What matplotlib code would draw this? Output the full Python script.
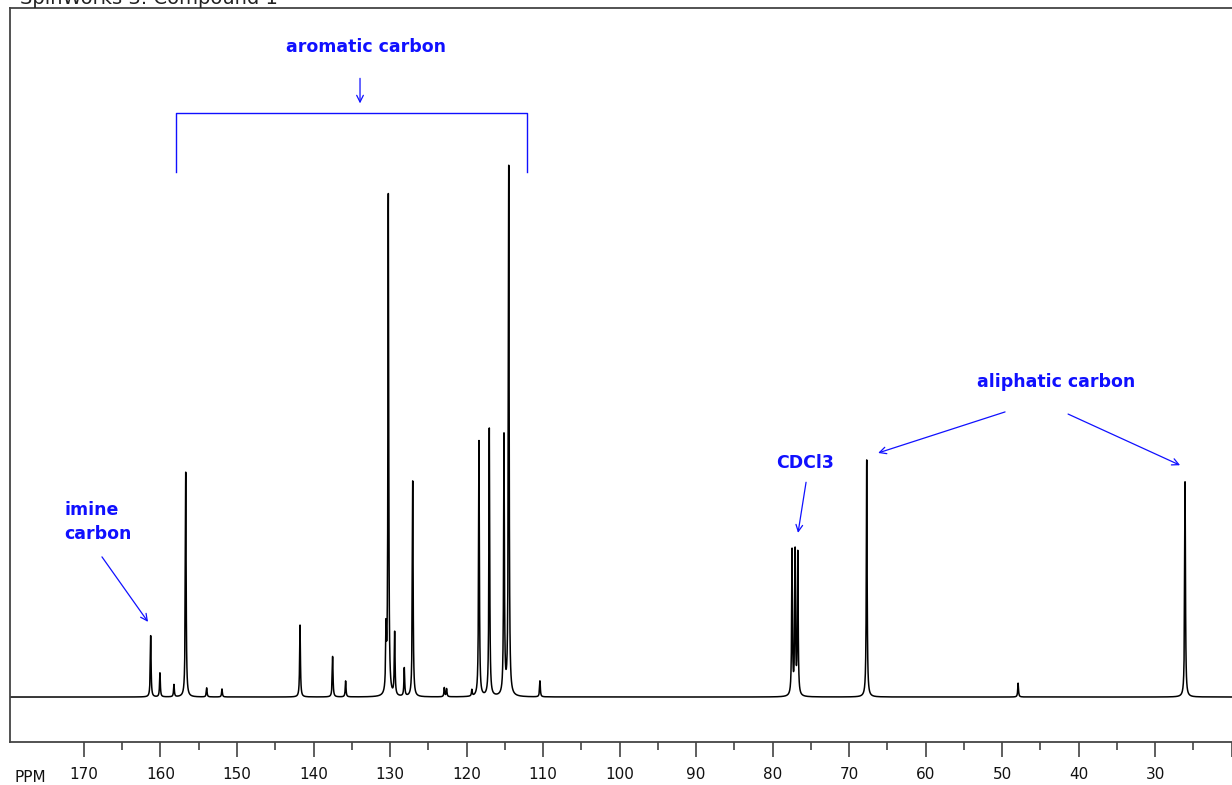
import numpy as np
import matplotlib.pyplot as plt

# 13C signals: chemical shift (ppm) and height (tallest = 100)
peak_ppm = [161.28, 160.07, 158.24, 156.70, 153.96, 151.96,
            141.76, 137.50, 135.80,
            130.52, 130.22, 129.39, 128.13, 127.03,
            122.90, 122.60, 119.30,
            118.37, 117.02, 115.10, 114.48, 110.40,
            77.45, 77.05, 76.70,
            67.69, 47.90, 26.08]
peak_height = [11.5, 4.5, 2.3, 42.2, 1.7, 1.5,
               13.5, 7.6, 3.0,
               11.0, 94.0, 11.8, 5.3, 40.5,
               1.7, 1.5, 1.2,
               48.0, 50.3, 48.6, 99.3, 3.0,
               27.2, 26.8, 26.6,
               44.5, 2.6, 40.4]

major_ticks = [170, 160, 150, 140, 130, 120, 110, 100, 90, 80, 70, 60, 50, 40, 30, 20]
tick_labels = ['170', '160', '150', '140', '130', '120', '110', '100',
               '90', '80', '70', '60', '50', '40', '30', '']
minor_ticks = [165, 155, 145, 135, 125, 115, 105, 95, 85, 75, 65, 55, 45, 35, 25]

title = 'SpinWorks 3: Compound 1'

# lorentzian line shape for each signal
gamma = 0.06
ppm = np.arange(18.9, 179.7, 0.003)
spec = np.zeros_like(ppm)
for p, h in zip(peak_ppm, peak_height):
    spec += h / (1.0 + ((ppm - p) / gamma) ** 2)

fig = plt.figure(figsize=(12.32, 7.85), dpi=100)
ax = fig.add_axes([10 / 1232, 43 / 785, 1230 / 1232, 734 / 785])
ax.plot(ppm, spec, color='black', lw=1.1)

ax.set_xlim(179.67, 18.9)
ax.set_ylim(-8.44, 129.3)
ax.set_yticks([])
for s in ax.spines.values():
    s.set_color('#444444')
    s.set_linewidth(1.3)

ax.set_xticks(major_ticks)
ax.set_xticklabels(tick_labels)
ax.set_xticks(minor_ticks, minor=True)
ax.tick_params(axis='x', which='major', length=11, width=1.1, color='#333333',
               pad=7, labelsize=11, labelcolor='#111111')
ax.tick_params(axis='x', which='minor', length=6, width=1.1, color='#333333')

fig.text(15 / 1232, 1 - 782 / 785, 'PPM', fontsize=11, color='#111111',
         ha='left', va='baseline')
fig.text(20 / 1232, 1 - 4 / 785, title, fontsize=14, color='#222222',
         ha='left', va='baseline')

blue = '#1010ff'
font = dict(color=blue, fontsize=12.5, fontweight='bold')
arrow = dict(arrowstyle='->', color=blue, lw=0.9, shrinkA=0, shrinkB=0,
             mutation_scale=12)

# aromatic region bracket
ax.text(133.14, 121.9, 'aromatic carbon', ha='center', va='center', **font)
ax.annotate('', xy=(133.92, 111.4), xytext=(133.92, 116.1), arrowprops=arrow)
ax.plot([157.97, 157.97, 112.09, 112.09], [98.5, 109.6, 109.6, 98.5],
        color=blue, lw=1.0)

# imine
ax.text(172.6, 36.8, 'imine\ncarbon', ha='left', va='top', linespacing=1.45, **font)
ax.annotate('', xy=(161.63, 14.1), xytext=(167.65, 26.3), arrowprops=arrow)

# solvent
ax.text(75.75, 43.9, 'CDCl3', ha='center', va='center', **font)
ax.annotate('', xy=(76.67, 30.8), xytext=(75.62, 40.3), arrowprops=arrow)

# aliphatic
ax.text(42.94, 59.1, 'aliphatic carbon', ha='center', va='center', **font)
ax.annotate('', xy=(66.2, 45.8), xytext=(49.61, 53.5), arrowprops=arrow)
ax.annotate('', xy=(26.73, 43.5), xytext=(41.37, 53.1), arrowprops=arrow)

fig.savefig('out.png', dpi=100)
